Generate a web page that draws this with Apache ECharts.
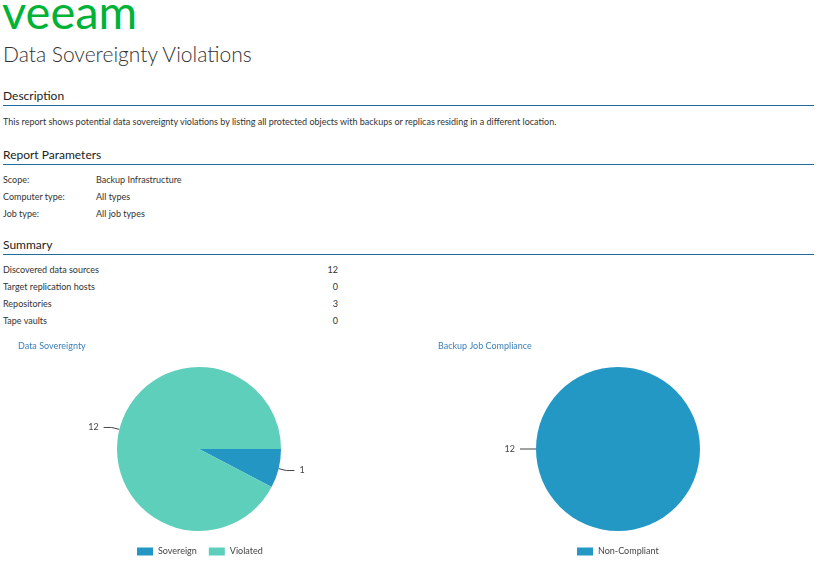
<!DOCTYPE html>
<html>
<head>
<meta charset="utf-8">
<script src="https://cdn.jsdelivr.net/npm/echarts@6/dist/echarts.min.js"></script>
<style>
  html, body { margin: 0; padding: 0; background: #fff; }
  body { width: 817px; height: 569px; position: relative; overflow: hidden;
         font-family: Lato, "Open Sans", sans-serif; color: #333; }
  .abs { position: absolute; white-space: nowrap; }
  .logo { left: 2px; top: -17px; font-size: 47px; color: #00b336; letter-spacing: 0px; font-weight: 400; }
  .title { left: 3px; top: 41px; font-size: 21px; color: #333; font-weight: 300; }
  .h2 { left: 3px; font-size: 12px; color: #222; }
  .rule { left: 3px; width: 811px; height: 1px; background: #1f6b9e; }
  .small { font-size: 9px; color: #333; }
  #chart { position: absolute; left: 0; top: 335px; width: 817px; height: 234px; }
</style>
</head>
<body>
<div id="page"></div>
<div id="chart"></div>
<script>
// report text
const paramLabels = ["Scope:", "Computer type:", "Job type:"];
const paramValues = ["Backup Infrastructure", "All types", "All job types"];
const summaryLabels = ["Discovered data sources", "Target replication hosts", "Repositories", "Tape vaults"];
const summaryValues = [12, 0, 3, 0];

// pie data
const sovCategories = ["Sovereign", "Violated"];
const sovValues = [1, 12];
const jobCategories = ["Non-Compliant"];
const jobValues = [12];

const page = document.getElementById("page");
function add(cls, text, css) {
  const d = document.createElement("div");
  d.className = "abs " + cls;
  d.textContent = text;
  Object.assign(d.style, css || {});
  page.appendChild(d);
  return d;
}

add("logo", "veeam");
add("title", "Data Sovereignty Violations");

add("h2", "Description", { top: "88px" });
add("rule", "", { top: "105px" });
add("small", "This report shows potential data sovereignty violations by listing all protected objects with backups or replicas residing in a different location.", { left: "3px", top: "116px" });

add("h2", "Report Parameters", { top: "147px" });
add("rule", "", { top: "164px" });
paramLabels.forEach((l, i) => {
  add("small", l, { left: "3px", top: (174 + i * 17) + "px" });
  add("small", paramValues[i], { left: "96px", top: (174 + i * 17) + "px" });
});

add("h2", "Summary", { top: "237px" });
add("rule", "", { top: "254px" });
summaryLabels.forEach((l, i) => {
  add("small", l, { left: "3px", top: (264 + i * 17) + "px" });
  add("small", String(summaryValues[i]), { left: "238px", width: "100px", textAlign: "right", top: (264 + i * 17) + "px" });
});

const chart = echarts.init(document.getElementById("chart"), null, { renderer: "canvas" });
const font = "Lato";
const labelStyle = { color: "#444", fontSize: 9, fontFamily: font, formatter: "{c}" };
const lineStyle = { show: true, length: 8, length2: 8, lineStyle: { color: "#444", width: 1 } };

chart.setOption({
  animation: false,
  title: [
    { text: "Data Sovereignty", left: 13, top: 2, textStyle: { fontSize: 9, fontWeight: "normal", color: "#3a7fb8", fontFamily: font } },
    { text: "Backup Job Compliance", left: 433, top: 2, textStyle: { fontSize: 9, fontWeight: "normal", color: "#3a7fb8", fontFamily: font } }
  ],
  legend: [
    { data: sovCategories, left: 132, top: 207, icon: "rect", itemWidth: 16, itemHeight: 8, itemGap: 12,
      textStyle: { fontSize: 9, color: "#444", fontFamily: font } },
    { data: jobCategories, left: 572, top: 207, icon: "rect", itemWidth: 16, itemHeight: 8,
      textStyle: { fontSize: 9, color: "#444", fontFamily: font } }
  ],
  series: [
    {
      type: "pie", center: [199, 114], radius: 82, startAngle: 0, clockwise: true,
      color: ["#2396c4", "#5ecfbb"],
      label: labelStyle, labelLine: lineStyle,
      emphasis: { disabled: true },
      data: sovCategories.map((n, i) => ({ name: n, value: sovValues[i] }))
    },
    {
      type: "pie", center: [618, 114], radius: 82, startAngle: 0, clockwise: true,
      color: ["#2398c4"],
      label: labelStyle, labelLine: lineStyle,
      emphasis: { disabled: true },
      data: jobCategories.map((n, i) => ({ name: n, value: jobValues[i] }))
    }
  ]
});
</script>
</body>
</html>
